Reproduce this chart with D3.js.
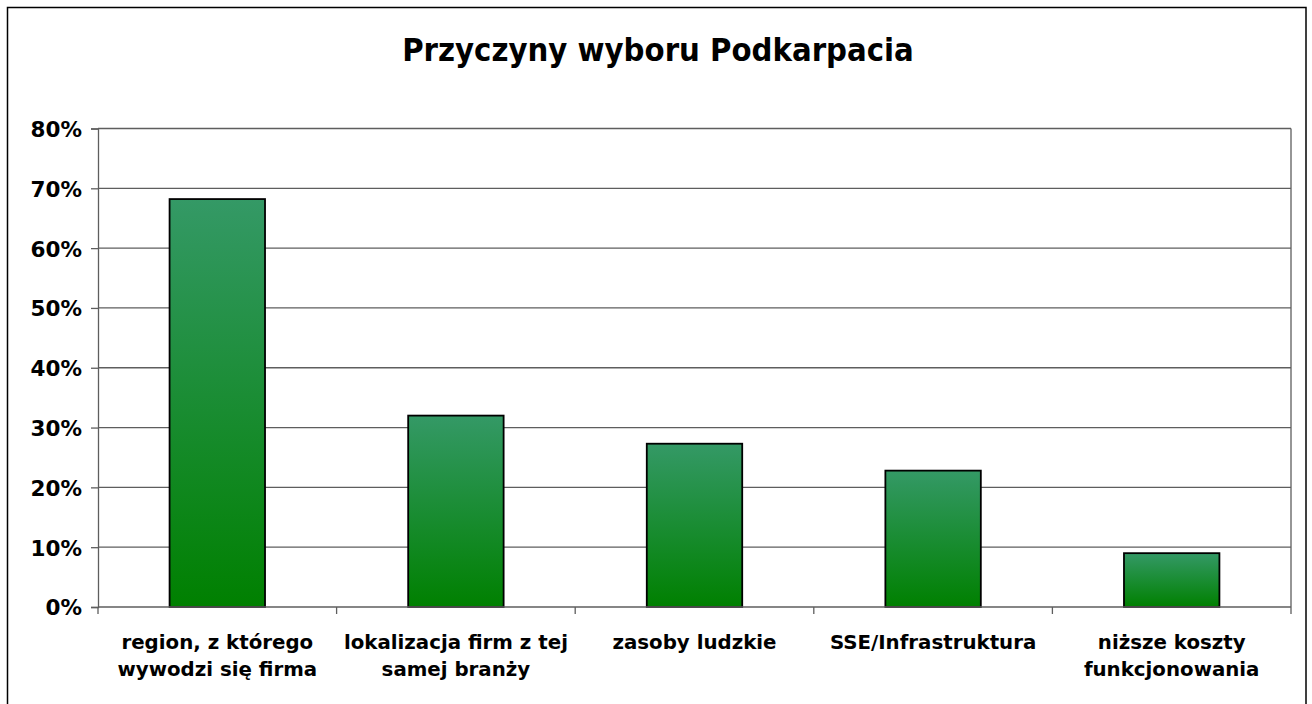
<!DOCTYPE html>
<html>
<head>
<meta charset="utf-8">
<script src="https://cdn.jsdelivr.net/npm/d3@7"></script>
<style>
  body { margin: 0; background: #fff; }
  svg { display: block; }
  text { font-family: "DejaVu Sans", sans-serif; font-weight: bold; fill: #000; }
  .title { font-family: "DejaVu Sans Condensed", "DejaVu Sans", sans-serif; }
</style>
</head>
<body>
<div id="chart"></div>
<script>
// Chart data
var title = "Przyczyny wyboru Podkarpacia"
var categories = [
  "region, z którego\nwywodzi się firma",
  "lokalizacja firm z tej\nsamej branży",
  "zasoby ludzkie",
  "SSE/Infrastruktura",
  "niższe koszty\nfunkcjonowania"
]
var values = [0.682, 0.32, 0.273, 0.228, 0.09]
var yTicks = [0, 0.1, 0.2, 0.3, 0.4, 0.5, 0.6, 0.7, 0.8]

var svgWidth = 1312
var svgHeight = 704

// plot area in page pixels
var plot = { left: 98, right: 1291, top: 128.5, bottom: 607 }

var svg = d3.select("#chart")
  .append("svg")
  .attr("width", svgWidth)
  .attr("height", svgHeight)

// gradient used by every bar
var grad = svg.append("defs").append("linearGradient")
  .attr("id", "barFill")
  .attr("x1", 0).attr("y1", 0)
  .attr("x2", 0).attr("y2", 1)
grad.append("stop").attr("offset", "0%").attr("stop-color", "#349966")
grad.append("stop").attr("offset", "100%").attr("stop-color", "#008000")

// outer chart frame (bottom edge falls outside the picture)
svg.append("rect")
  .attr("x", 7.5)
  .attr("y", 7.5)
  .attr("width", 1298.5)
  .attr("height", 740)
  .attr("fill", "none")
  .attr("stroke", "#000")
  .attr("stroke-width", 1.5)

// title
svg.append("text")
  .attr("class", "title")
  .attr("x", 658)
  .attr("y", 61)
  .attr("text-anchor", "middle")
  .style("font-size", "32.5px")
  .text(title)

// scales
var xScale = d3.scaleBand()
  .domain(categories)
  .range([plot.left, plot.right])
  .padding(0)

var yScale = d3.scaleLinear()
  .domain([0, 0.8])
  .range([plot.bottom, plot.top])

// gridlines
svg.append("g")
  .selectAll("line")
  .data(yTicks.filter(d => d > 0))
  .enter()
  .append("line")
  .attr("x1", plot.left)
  .attr("x2", plot.right)
  .attr("y1", d => yScale(d))
  .attr("y2", d => yScale(d))
  .attr("stroke", "#5e5e5e")
  .attr("stroke-width", 1.3)

// right border of plot area
svg.append("line")
  .attr("x1", plot.right).attr("x2", plot.right)
  .attr("y1", plot.top).attr("y2", plot.bottom)
  .attr("stroke", "#5e5e5e")
  .attr("stroke-width", 1.3)

// bars
var barWidth = xScale.bandwidth() * 0.4
svg.append("g")
  .selectAll("rect")
  .data(values)
  .enter()
  .append("rect")
  .attr("x", (d, i) => xScale(categories[i]) + (xScale.bandwidth() - barWidth) / 2)
  .attr("y", d => yScale(d))
  .attr("width", barWidth)
  .attr("height", d => yScale(0) - yScale(d))
  .attr("fill", "url(#barFill)")
  .attr("stroke", "#000")
  .attr("stroke-width", 1.8)

// y axis
var leftAxis = d3.axisLeft(yScale)
  .tickValues(yTicks)
  .tickFormat(d3.format(".0%"))
  .tickSize(7)
  .tickPadding(9)

var yAxis = svg.append("g")
  .attr("transform", `translate(${plot.left}, 0)`)
  .call(leftAxis)
yAxis.attr("font-family", null).attr("font-size", null)
yAxis.select(".domain").attr("stroke", "#5e5e5e").attr("stroke-width", 1.3)
yAxis.selectAll(".tick line").attr("stroke", "#5e5e5e").attr("stroke-width", 1.3)
yAxis.selectAll(".tick text")
  .style("font-size", "21.5px")
  .attr("dy", "0.37em")

// x axis: ticks between categories
var xAxis = svg.append("g")
xAxis.append("line")
  .attr("x1", plot.left).attr("x2", plot.right)
  .attr("y1", yScale(0)).attr("y2", yScale(0))
  .attr("stroke", "#5e5e5e")
  .attr("stroke-width", 1.3)
xAxis.selectAll(".xtick")
  .data(categories.concat([null]))
  .enter()
  .append("line")
  .attr("class", "xtick")
  .attr("x1", (d, i) => plot.left + i * xScale.step())
  .attr("x2", (d, i) => plot.left + i * xScale.step())
  .attr("y1", yScale(0))
  .attr("y2", yScale(0) + 7)
  .attr("stroke", "#5e5e5e")
  .attr("stroke-width", 1.3)

// category labels
var labels = xAxis.selectAll(".xlabel")
  .data(categories)
  .enter()
  .append("text")
  .attr("class", "xlabel")
  .attr("text-anchor", "middle")
  .style("font-size", "19.8px")
  .attr("transform", d => `translate(${xScale(d) + xScale.bandwidth() / 2}, 649)`)

labels.selectAll("tspan")
  .data(d => d.split("\n"))
  .enter()
  .append("tspan")
  .attr("x", 0)
  .attr("y", (d, i) => i * 26.5)
  .text(d => d)
</script>
</body>
</html>
